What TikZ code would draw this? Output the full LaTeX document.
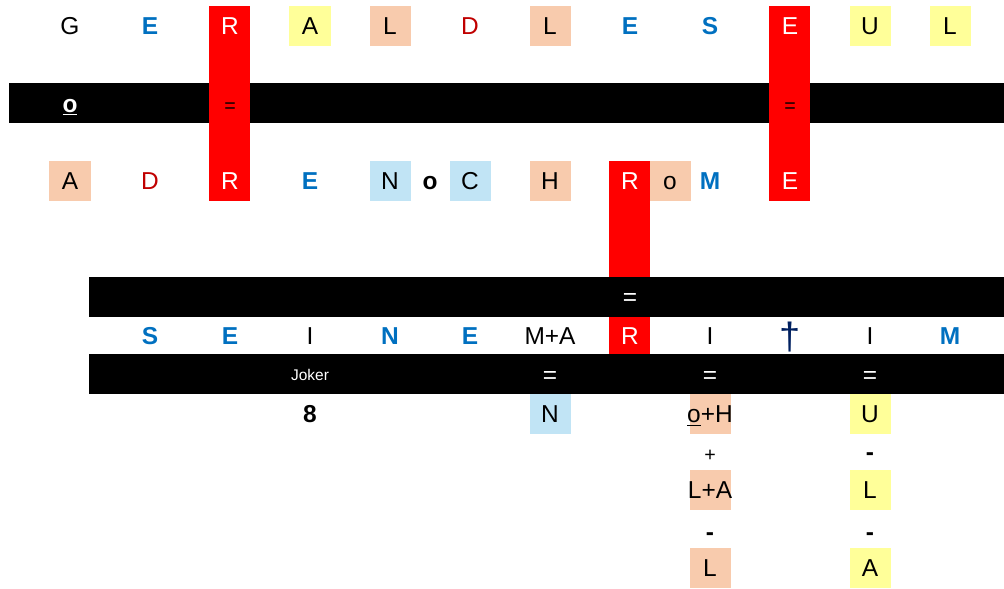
\documentclass[tikz,border=0pt]{standalone}
\usepackage{fontspec}
\setmainfont{Liberation Sans}
\definecolor{cBlue}{HTML}{0070C0}
\definecolor{cDred}{HTML}{C00000}
\definecolor{cPeach}{HTML}{F8CBAD}
\definecolor{cSky}{HTML}{C1E4F5}
\definecolor{cLemon}{HTML}{FFFF99}
\definecolor{cNavy}{HTML}{002060}
\newcommand\lettfont{\fontsize{17.4}{20}\selectfont}

\begin{document}
\begin{tikzpicture}[x=0.025cm,y=-0.025cm,
  cell/.style={minimum width=1.025cm, minimum height=1cm, inner sep=0pt,
    text height=12.5pt, text depth=0pt, font=\lettfont},
  plaintxt/.style={},
  smalltxt/.style={font=\fontsize{14}{16}\selectfont},
  boldtxt/.style={font=\lettfont\bfseries},
  bluetxt/.style={boldtxt, text=cBlue},
  redtxt/.style={text=cDred},
  whitetxt/.style={text=white},
  peachbox/.style={fill=cPeach},
  skybox/.style={fill=cSky},
  lemonbox/.style={fill=cLemon}]
\useasboundingbox (0,0) rectangle (1004,588);
\fill (9,83) rectangle (1004,123);
\fill[red] (209,6) rectangle (250,201);
\fill[red] (769,6) rectangle (810,201);
\fill[red] (609,161) rectangle (650,277);
\fill (89,277) rectangle (1004,317);
\fill[red] (609,317) rectangle (650,354);
\fill (89,354) rectangle (1004,394);
\foreach \i/\t/\s in {0/G/plaintxt,1/E/bluetxt,2/R/whitetxt,3/A/lemonbox,
    4/L/peachbox,5/D/redtxt,6/L/peachbox,7/E/bluetxt,8/S/bluetxt,
    9/E/whitetxt,10/U/lemonbox,11/L/lemonbox}
  \node[cell,\s] (top\i) at (70+80*\i,26) {\t};
\node[cell,boldtxt,text=white] (bar1o) at (70,103.5) {\underline{o}};
\node[cell,smalltxt] (bar1eqa) at (230,103.5) {=};
\node[cell,smalltxt] (bar1eqb) at (790,103.5) {=};
\foreach \x/\t/\s [count=\i] in {70/A/peachbox,150/D/redtxt,230/R/whitetxt,
    310/E/bluetxt,390/N/skybox,430/o/boldtxt,470/C/skybox,550/H/peachbox,
    630/R/whitetxt,670/o/peachbox,710/M/bluetxt,790/E/whitetxt}
  \node[cell,\s] (mid\i) at (\x,181) {\t};
\node[cell,whitetxt] (bar2eq) at (630,297) {=};
\foreach \i/\t/\s in {1/S/bluetxt,2/E/bluetxt,3/I/plaintxt,4/N/bluetxt,
    5/E/bluetxt,6/M+A/plaintxt,7/R/whitetxt,8/I/plaintxt,10/I/plaintxt,
    11/M/bluetxt}
  \node[cell,\s] (row\i) at (70+80*\i,335.5) {\t};
\node[text=cNavy, font=\fontsize{27}{30}\selectfont, inner sep=0pt] (dagger) at (790,337) {†};
\node[font=\fontsize{11}{13}\selectfont, text=white] (joker) at (310,375) {Joker};
\foreach \i in {6,8,10}
  \node[cell,whitetxt] (eq\i) at (70+80*\i,375) {=};
\node[cell,boldtxt] (eight) at (310,414) {8};
\node[cell,skybox] (n4) at (550,414) {N};
\node[cell,peachbox] (oh) at (710,414) {\makebox[0pt]{\underline{o}+H}};
\node[cell,lemonbox] (u4) at (870,414) {U};
\node[cell,smalltxt] (plus) at (710,453) {+};
\node[cell,boldtxt] (minA) at (870,452) {-};
\node[cell,peachbox] (la) at (710,490) {\makebox[0pt]{L+A}};
\node[cell,lemonbox] (l6) at (870,490) {L};
\node[cell,boldtxt] (minB) at (710,532) {-};
\node[cell,boldtxt] (minC) at (870,532) {-};
\node[cell,peachbox] (l8) at (710,568) {L};
\node[cell,lemonbox] (a8) at (870,568) {A};
\end{tikzpicture}
\end{document}
